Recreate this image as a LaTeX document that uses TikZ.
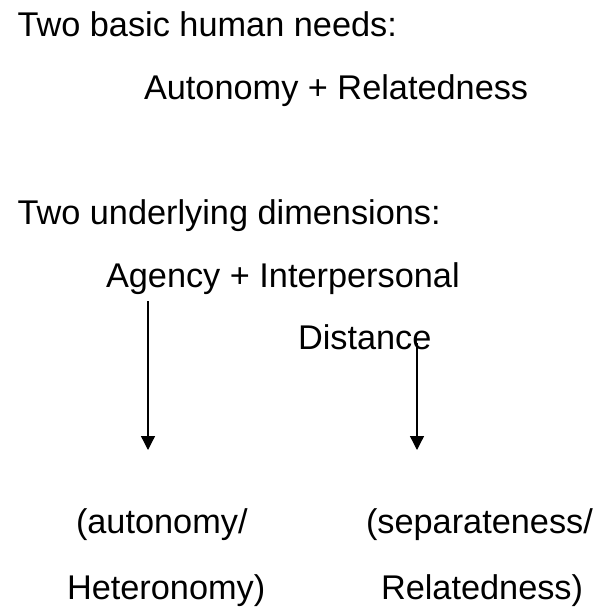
\documentclass[tikz,border=0pt]{standalone}
\usepackage{fontspec}
\setmainfont{Liberation Sans}
\usetikzlibrary{arrows.meta}
\begin{document}
\begin{tikzpicture}[x=1pt,y=-1pt,
  txt/.style={anchor=base west,inner sep=0pt,outer sep=0pt,font=\fontsize{34.3}{41}\selectfont},
  arr/.style={line width=1.3pt,-{Triangle[length=14pt,width=14pt]}}]
\useasboundingbox (0,0) rectangle (603,608);
\node[txt] (needs) at (17.5,36.7) {Two basic human needs:};
\node[txt] (ar) at (144,99) {Autonomy + Relatedness};
\node[txt] (dims) at (17.5,224) {Two underlying dimensions:};
\node[txt] (agency) at (106,287) {Agency + Interpersonal};
\node[txt] (dist) at (298,349) {Distance};
\node[txt] (auto) at (76,533) {(autonomy/};
\node[txt] (hetero) at (67,599) {Heteronomy)};
\node[txt] (sep) at (366,533) {(separateness/};
\node[txt] (rel) at (381,599) {Relatedness)};
\coordinate (s1) at (148,301);
\coordinate (e1) at (148,450);
\coordinate (s2) at (417,343);
\coordinate (e2) at (417,450);
\draw[arr] (s1) -- (e1);
\draw[arr] (s2) -- (e2);
\end{tikzpicture}
\end{document}
